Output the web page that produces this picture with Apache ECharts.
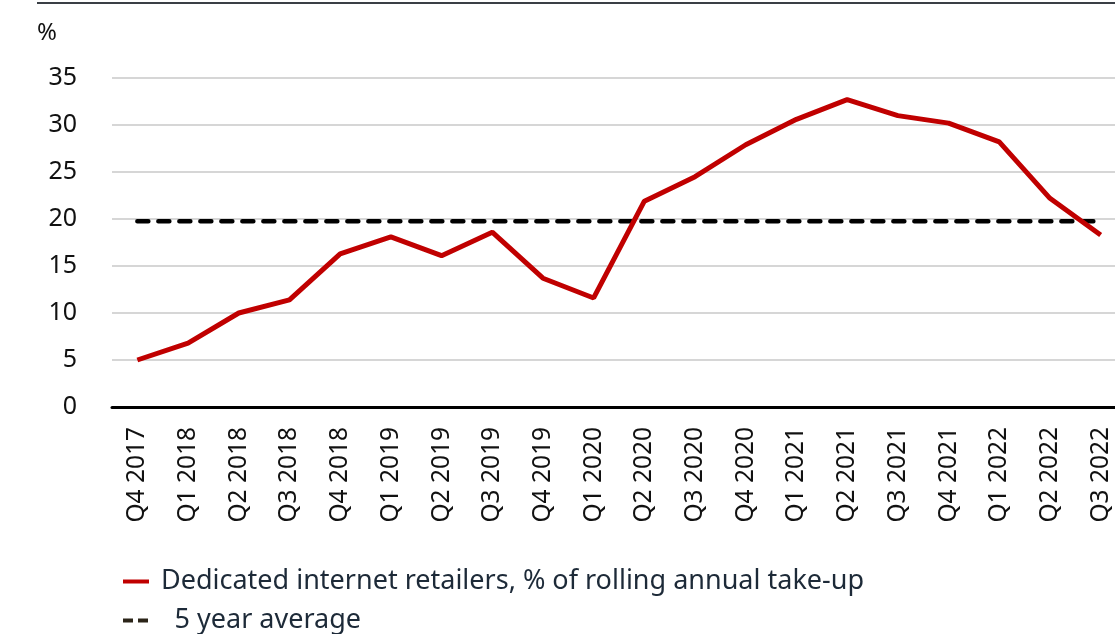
<!DOCTYPE html>
<html>
<head>
<meta charset="utf-8">
<script src="https://cdn.jsdelivr.net/npm/echarts@6/dist/echarts.min.js"></script>
<style>
  html, body { margin: 0; padding: 0; overflow: hidden; background: #fff; }
  #main { width: 1126px; height: 634px; }
</style>
</head>
<body>
<div id="main"></div>
<script>
// quarters on the x axis
var quarters = ['Q4 2017','Q1 2018','Q2 2018','Q3 2018','Q4 2018','Q1 2019','Q2 2019','Q3 2019',
                'Q4 2019','Q1 2020','Q2 2020','Q3 2020','Q4 2020','Q1 2021','Q2 2021','Q3 2021',
                'Q4 2021','Q1 2022','Q2 2022','Q3 2022'];
// dedicated internet retailers, % of rolling annual take-up
var retailerShare = [5.0, 6.8, 10.0, 11.4, 16.3, 18.1, 16.1, 18.6, 13.7, 11.6,
                     21.9, 24.5, 27.9, 30.6, 32.7, 31.0, 30.2, 28.2, 22.2, 18.3];
// 5 year average (flat)
var avgValue = 19.75;
var avgLine = quarters.map(function () { return avgValue; });

var retailerName = 'Dedicated internet retailers, % of rolling annual take-up';
var avgName = '5 year average';
var font = 'Noto Sans';

var legendText = { fontSize: 27, fontFamily: font, color: '#1d2a38', padding: [0, 0, 0, 7] };

var myChart = echarts.init(document.getElementById('main'));
var option = {
    animation: false,
    grid: { left: 112, right: 0, top: 78, bottom: 227 },
    graphic: [
        {   // rule across the top
            type: 'line',
            shape: { x1: 37, y1: 3, x2: 1126, y2: 3 },
            style: { stroke: '#3a3f45', lineWidth: 2 }
        },
        {
            type: 'text',
            left: 37, top: 21,
            style: { text: '%', fontSize: 24, fontFamily: font, fill: '#111' }
        }
    ],
    legend: [
        {
            left: 123, top: 568,
            itemWidth: 26, itemHeight: 4, padding: 0,
            data: [{ name: retailerName, icon: 'rect', itemStyle: { color: '#c00000' } }],
            textStyle: legendText
        },
        {
            left: 123, top: 607,
            itemWidth: 26, itemHeight: 4, padding: 0,
            data: [{ name: avgName, icon: 'path://M0,0h10v4h-10z M15,0h10v4h-10z', itemStyle: { color: '#2b2418' } }],
            formatter: function (name) { return '  ' + name; },
            textStyle: legendText
        }
    ],
    xAxis: {
        type: 'category',
        data: quarters,
        boundaryGap: true,
        axisLine: { lineStyle: { color: '#000', width: 3 } },
        axisTick: { show: false },
        axisLabel: { rotate: 90, fontSize: 24.5, fontFamily: font, color: '#111', margin: 20 }
    },
    yAxis: {
        type: 'value',
        min: 0, max: 35, interval: 5,
        axisLine: { show: false },
        axisTick: { show: false },
        axisLabel: { fontSize: 25, fontFamily: font, color: '#111', margin: 35 },
        splitLine: { lineStyle: { color: '#c8c8c8', width: 1.5 } }
    },
    series: [
        {
            name: retailerName,
            type: 'line',
            data: retailerShare,
            symbol: 'none',
            z: 3,
            lineStyle: { color: '#c00000', width: 5 },
            itemStyle: { color: '#c00000' }
        },
        {
            name: avgName,
            type: 'line',
            data: avgLine,
            symbol: 'none',
            z: 2,
            lineStyle: { color: '#000', width: 4.5, type: [11, 10], cap: 'round' },
            itemStyle: { color: '#2b2418' }
        }
    ]
};
myChart.setOption(option);
</script>
</body>
</html>
